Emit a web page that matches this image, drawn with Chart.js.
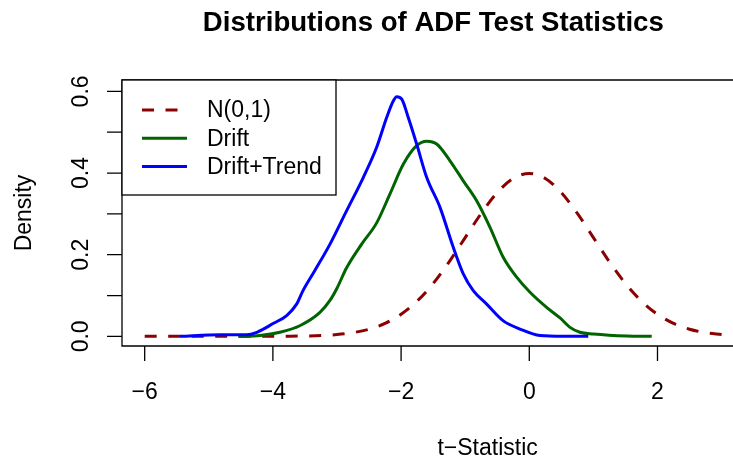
<!DOCTYPE html>
<html>
<head>
<meta charset="utf-8">
<script src="https://cdn.jsdelivr.net/npm/chart.js@4/dist/chart.umd.min.js"></script>
<style>
  html, body { margin: 0; padding: 0; background: #ffffff; }
  #c { display: block; }
</style>
</head>
<body>
<canvas id="c" width="733" height="459"></canvas>
<script>
// ---- Data ----
const seriesNames = ["N(0,1)", "Drift", "Drift+Trend"];

const normX = [-6, -5.5, -5, -4.5, -4, -3.75, -3.5, -3.25, -3, -2.75, -2.5, -2.25, -2, -1.75, -1.5, -1.25, -1, -0.75, -0.5, -0.25, 0, 0.25, 0.5, 0.75, 1, 1.25, 1.5, 1.75, 2, 2.25, 2.5, 2.75, 3];
const normY = [0, 0, 0, 0, 0.0001, 0.0004, 0.0009, 0.002, 0.0044, 0.0091, 0.0175, 0.0317, 0.054, 0.0863, 0.1295, 0.1826, 0.242, 0.3011, 0.3521, 0.3867, 0.3989, 0.3867, 0.3521, 0.3011, 0.242, 0.1826, 0.1295, 0.0863, 0.054, 0.0317, 0.0175, 0.0091, 0.0044];

const driftX = [-4.54, -4.2, -3.89, -3.58, -3.27, -3.11, -3.0, -2.85, -2.615, -2.381, -2.173, -1.964, -1.757, -1.6, -1.445, -1.237, -1.03, -0.821, -0.613, -0.405, -0.197, 0.011, 0.27, 0.48, 0.635, 0.79, 1.0, 1.52, 1.91];
const driftY = [0, 0.002, 0.010, 0.026, 0.058, 0.088, 0.118, 0.168, 0.226, 0.278, 0.349, 0.422, 0.467, 0.478, 0.471, 0.430, 0.381, 0.332, 0.267, 0.193, 0.145, 0.108, 0.071, 0.045, 0.022, 0.010, 0.006, 0.001, 0];

const trendX = [-5.45, -4.82, -4.41, -4.25, -3.99, -3.785, -3.63, -3.53, -3.35, -3.109, -2.849, -2.59, -2.381, -2.225, -2.12, -2.069, -1.99, -1.888, -1.757, -1.6, -1.393, -1.186, -1.03, -0.874, -0.665, -0.405, -0.145, 0.167, 0.53, 0.92];
const trendY = [0, 0.004, 0.004, 0.010, 0.032, 0.051, 0.079, 0.112, 0.160, 0.226, 0.308, 0.389, 0.463, 0.536, 0.577, 0.587, 0.581, 0.536, 0.471, 0.389, 0.316, 0.218, 0.153, 0.112, 0.079, 0.038, 0.018, 0.002, 0, 0];

const xTicks = [-6, -4, -2, 0, 2];
const xTickLabels = ["\u22126", "\u22124", "\u22122", "0", "2"];
const yTicks = [0, 0.1, 0.2, 0.3, 0.4, 0.5, 0.6];
const yTickLabels = ["0.0", "", "0.2", "", "0.4", "", "0.6"];

const titleText = "Distributions of ADF Test Statistics";
const xTitle = "t\u2212Statistic";
const yTitle = "Density";

// ---- Styles ----
const colors = ["#8B0000", "#006400", "#0000FF"];
const FONT = '"Liberation Sans", Arial, Helvetica, sans-serif';
const XMIN = -6.354, XMAX = 3.178, XFULLMAX = 3.36;
const YMIN = -0.0236, YMAX = 0.6279;

function pts(xs, ys) { return xs.map((x, i) => ({ x: x, y: ys[i] })); }

const rAxesPlugin = {
  id: 'rAxes',
  afterDraw(chart) {
    const ctx = chart.ctx;
    const a = chart.chartArea;
    const xs = chart.scales.x, ys = chart.scales.y;
    ctx.save();
    ctx.strokeStyle = '#000';
    ctx.fillStyle = '#000';
    ctx.lineWidth = 1.3;
    // box (right side is outside the picture)
    ctx.beginPath();
    ctx.moveTo(a.right + 2, a.top);
    ctx.lineTo(a.left, a.top);
    ctx.lineTo(a.left, a.bottom);
    ctx.lineTo(a.right + 2, a.bottom);
    ctx.stroke();
    // x ticks
    ctx.beginPath();
    xTicks.forEach(v => {
      const px = xs.getPixelForValue(v);
      ctx.moveTo(px, a.bottom);
      ctx.lineTo(px, a.bottom + 15);
    });
    ctx.stroke();
    ctx.font = '23px ' + FONT;
    ctx.textAlign = 'center';
    ctx.textBaseline = 'alphabetic';
    xTicks.forEach((v, i) => {
      ctx.fillText(xTickLabels[i], xs.getPixelForValue(v), a.bottom + 53);
    });
    // y ticks
    ctx.beginPath();
    yTicks.forEach(v => {
      const py = ys.getPixelForValue(v);
      ctx.moveTo(a.left - 15, py);
      ctx.lineTo(a.left, py);
    });
    ctx.stroke();
    yTicks.forEach((v, i) => {
      if (!yTickLabels[i]) return;
      ctx.save();
      ctx.translate(a.left - 34, ys.getPixelForValue(v));
      ctx.rotate(-Math.PI / 2);
      ctx.fillText(yTickLabels[i], 0, 0);
      ctx.restore();
    });
    // titles
    const cx = (a.left + xs.getPixelForValue(XFULLMAX)) / 2;
    ctx.fillText(xTitle, xs.getPixelForValue(-0.65), a.bottom + 109);
    ctx.save();
    ctx.translate(31, (a.top + a.bottom) / 2);
    ctx.rotate(-Math.PI / 2);
    ctx.fillText(yTitle, 0, 0);
    ctx.restore();
    ctx.font = 'bold 27.6px ' + FONT;
    ctx.fillText(titleText, cx, 31);
    // legend
    const lx = a.left, ly = a.top, lw = 214, lh = 115;
    ctx.fillStyle = '#fff';
    ctx.fillRect(lx, ly, lw, lh);
    ctx.lineWidth = 1.3;
    ctx.strokeStyle = '#000';
    ctx.strokeRect(lx, ly, lw, lh);
    ctx.font = '23px ' + FONT;
    ctx.textAlign = 'left';
    ctx.textBaseline = 'middle';
    seriesNames.forEach((name, i) => {
      const yy = ly + 30 + i * 28.3;
      ctx.beginPath();
      ctx.strokeStyle = colors[i];
      ctx.lineWidth = 3;
      ctx.setLineDash(i === 0 ? [12, 11.5] : []);
      ctx.moveTo(lx + 20, yy);
      ctx.lineTo(lx + 65, yy);
      ctx.stroke();
      ctx.setLineDash([]);
      ctx.fillStyle = '#000';
      ctx.fillText(name, lx + 85, yy + 1);
    });
    ctx.restore();
  }
};

new Chart(document.getElementById('c'), {
  type: 'line',
  data: {
    datasets: [
      { label: seriesNames[0], data: pts(normX, normY), borderColor: colors[0], borderWidth: 3, borderDash: [12, 11.5], pointRadius: 0, cubicInterpolationMode: 'monotone', fill: false, order: 3 },
      { label: seriesNames[1], data: pts(driftX, driftY), borderColor: colors[1], borderWidth: 3, pointRadius: 0, cubicInterpolationMode: 'monotone', fill: false, order: 2 },
      { label: seriesNames[2], data: pts(trendX, trendY), borderColor: colors[2], borderWidth: 3, pointRadius: 0, cubicInterpolationMode: 'monotone', fill: false, order: 1 }
    ]
  },
  options: {
    responsive: false,
    animation: false,
    devicePixelRatio: 1,
    layout: { padding: { left: 122, top: 80, right: 0, bottom: 113 } },
    plugins: { legend: { display: false }, title: { display: false }, tooltip: { enabled: false } },
    scales: {
      x: { type: 'linear', display: false, min: XMIN, max: XMAX },
      y: { type: 'linear', display: false, min: YMIN, max: YMAX }
    }
  },
  plugins: [rAxesPlugin]
});
</script>
</body>
</html>
